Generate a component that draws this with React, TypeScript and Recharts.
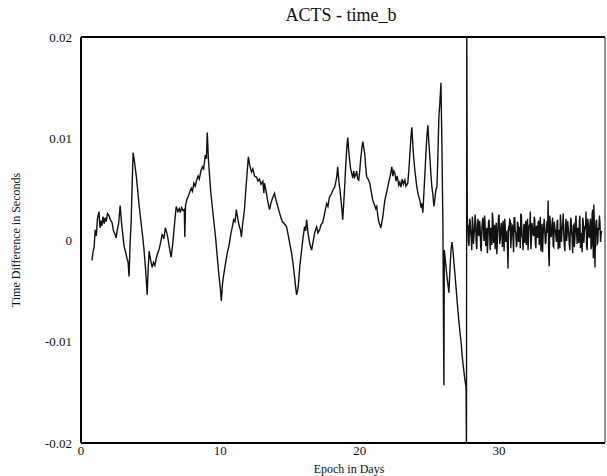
import { LineChart, Line, XAxis, YAxis, ReferenceLine } from 'recharts';

// ACTS clock - time_b residuals (days, seconds)
const epochsA = [0.79, 0.86, 0.94, 1.02, 1.1, 1.18, 1.29, 1.36, 1.44, 1.5, 1.58, 1.66, 1.73, 1.81, 1.9, 2.01, 2.1, 2.23, 2.33, 2.43, 2.52, 2.6, 2.7, 2.81, 2.9, 3.0, 3.09, 3.2, 3.3, 3.38, 3.45, 3.52, 3.6, 3.67, 3.74, 3.85, 3.96, 4.06, 4.17, 4.3, 4.42, 4.53, 4.64, 4.75, 4.82, 4.89, 5.0, 5.11, 5.2, 5.3, 5.4, 5.5, 5.61, 5.72, 5.83, 5.95, 6.05, 6.12, 6.22, 6.35, 6.47, 6.58, 6.7, 6.83, 6.95, 7.05, 7.12, 7.22, 7.32, 7.41, 7.45, 7.5, 7.6, 7.7, 7.8, 7.91, 8.0, 8.1, 8.2, 8.3, 8.4, 8.49, 8.6, 8.71, 8.8, 8.92, 9.0, 9.06];
const valuesA = [-0.002, -0.0012, -0.0007, 0.001, 0.0004, 0.0021, 0.0028, 0.0012, 0.0019, 0.0014, 0.0023, 0.0016, 0.0022, 0.0018, 0.0026, 0.0024, 0.002, 0.0017, 0.0009, 0.0006, 0.0002, 0.001, 0.0016, 0.0034, 0.0018, 0.0005, -0.0006, -0.0012, -0.0018, -0.0022, -0.0036, -0.0004, 0.0018, 0.0055, 0.0086, 0.0076, 0.0064, 0.005, 0.0034, 0.0018, 0.0004, -0.0011, -0.003, -0.0054, -0.0028, -0.0011, -0.002, -0.0027, -0.0022, -0.0025, -0.0018, -0.0013, -0.0009, -0.0002, 0.0006, 0.0001, 0.0012, 0.0009, 0.0003, -0.0008, -0.0017, -0.0004, 0.0014, 0.0033, 0.0028, 0.0031, 0.0027, 0.0032, 0.0029, 0.003, 0.0003, 0.0034, 0.004, 0.0043, 0.0047, 0.0051, 0.0048, 0.0056, 0.0053, 0.0059, 0.0063, 0.006, 0.0068, 0.0072, 0.007, 0.0084, 0.008, 0.0106];

const epochsB = [9.14, 9.22, 9.32, 9.42, 9.55, 9.66, 9.78, 9.9, 10.0, 10.07, 10.15, 10.22, 10.29, 10.36, 10.43, 10.52, 10.58, 10.65, 10.75, 10.86, 10.95, 11.05, 11.15, 11.25, 11.35, 11.44, 11.51, 11.6, 11.73, 11.82, 11.92, 12.01, 12.1, 12.23, 12.33, 12.45, 12.59, 12.7, 12.81, 12.92, 13.05, 13.12, 13.17, 13.28, 13.4, 13.53, 13.62, 13.74, 13.88, 13.98, 14.1, 14.24, 14.35, 14.45, 14.53, 14.65, 14.75, 14.88, 15.0, 15.11, 15.22, 15.32, 15.4, 15.47, 15.54, 15.6, 15.7, 15.83, 15.93, 16.04, 16.12, 16.19, 16.3, 16.42, 16.55, 16.65, 16.78, 16.91, 17.0, 17.12, 17.22, 17.34, 17.45, 17.55, 17.63, 17.72, 17.82, 17.99];
const valuesB = [0.008, 0.0064, 0.0046, 0.0033, 0.0016, 0.0002, -0.0017, -0.0035, -0.0048, -0.006, -0.0044, -0.0036, -0.003, -0.0024, -0.0018, -0.0011, -0.0008, -0.0003, 0.0006, 0.0013, 0.002, 0.0018, 0.003, 0.0021, 0.0014, 0.001, 0.0003, 0.0016, 0.003, 0.0048, 0.0066, 0.0082, 0.0074, 0.0067, 0.007, 0.0063, 0.0062, 0.0058, 0.006, 0.0055, 0.0058, 0.0046, 0.0056, 0.0048, 0.0038, 0.003, 0.0036, 0.0041, 0.0046, 0.004, 0.0034, 0.0027, 0.0022, 0.0018, 0.0017, 0.0015, 0.0013, 0.0004, -0.0005, -0.0013, -0.0024, -0.0036, -0.0046, -0.0054, -0.005, -0.0044, -0.0026, -0.001, 0.0002, 0.0013, 0.0009, 0.002, 0.0006, -0.0004, -0.001, -0.0002, 0.0008, 0.0013, 0.0007, 0.001, 0.0015, 0.0017, 0.0024, 0.0031, 0.0036, 0.0033, 0.0042, 0.0046];

const epochsC = [18.1, 18.2, 18.28, 18.35, 18.42, 18.5, 18.58, 18.63, 18.72, 18.78, 18.86, 18.93, 19.0, 19.07, 19.14, 19.21, 19.28, 19.35, 19.42, 19.5, 19.57, 19.64, 19.71, 19.78, 19.86, 19.93, 20.0, 20.07, 20.15, 20.22, 20.29, 20.36, 20.43, 20.5, 20.6, 20.72, 20.8, 20.87, 20.94, 21.05, 21.15, 21.22, 21.3, 21.37, 21.44, 21.51, 21.58, 21.65, 21.72, 21.8, 21.9, 22.01, 22.1, 22.2, 22.3, 22.38, 22.45, 22.52, 22.6, 22.68, 22.73, 22.8, 22.88, 22.96, 23.05, 23.14, 23.24, 23.32, 23.45, 23.52, 23.6, 23.67, 23.74, 23.81, 23.88, 23.96, 24.03, 24.1, 24.18, 24.25, 24.32, 24.4, 24.46, 24.53, 24.6, 24.68, 24.76, 24.82, 24.89, 24.96, 25.04, 25.11, 25.18, 25.25, 25.32, 25.4, 25.47, 25.54, 25.6, 25.68, 25.75, 25.83, 25.9, 25.97, 26.04, 26.07, 26.13, 26.2, 26.26, 26.33, 26.4, 26.47, 26.55, 26.62, 26.7, 26.77, 26.83, 26.92, 27.0, 27.05, 27.13, 27.2, 27.27, 27.34, 27.41, 27.48, 27.55, 27.63];
const valuesC = [0.005, 0.0052, 0.0057, 0.0062, 0.0072, 0.0058, 0.005, 0.0043, 0.003, 0.002, 0.0038, 0.0055, 0.0075, 0.009, 0.0101, 0.0088, 0.0078, 0.007, 0.0066, 0.0061, 0.0068, 0.0062, 0.0064, 0.0068, 0.006, 0.0059, 0.0068, 0.008, 0.009, 0.0097, 0.0091, 0.0085, 0.0072, 0.0062, 0.006, 0.0056, 0.005, 0.0044, 0.0039, 0.0035, 0.0031, 0.0033, 0.0024, 0.0018, 0.0015, 0.0012, 0.0017, 0.0022, 0.003, 0.0039, 0.0045, 0.0052, 0.0058, 0.0064, 0.0072, 0.0063, 0.0068, 0.0066, 0.0058, 0.0063, 0.006, 0.0054, 0.0057, 0.0052, 0.006, 0.0055, 0.0059, 0.0053, 0.0056, 0.0068, 0.0085, 0.01, 0.0111, 0.0094, 0.008, 0.0068, 0.006, 0.0052, 0.0046, 0.0042, 0.0039, 0.0032, 0.0036, 0.0027, 0.0045, 0.0066, 0.0088, 0.0102, 0.0113, 0.0096, 0.008, 0.0064, 0.0052, 0.0045, 0.0033, 0.0041, 0.005, 0.0052, 0.0078, 0.0121, 0.0135, 0.0155, 0.009, 0.0013, -0.0143, -0.001, -0.0018, -0.0028, -0.0036, -0.0044, -0.0052, -0.003, -0.001, -0.0002, -0.0012, -0.0024, -0.0033, -0.0048, -0.0062, -0.007, -0.0082, -0.0092, -0.01, -0.0112, -0.0122, -0.013, -0.0138, -0.0145];

// the off-scale glitch at the clock change
const glitchEpochs = [27.66, 27.68, 27.72];
const glitchValues = [-0.0215, 0.0215, 0.001];

// after the change: dense white noise, two interleaved sample sets
const noiseEpochs = [27.76, 27.84, 27.92, 28.0, 28.08, 28.16, 28.24, 28.32, 28.4, 28.48, 28.56, 28.64, 28.72, 28.8, 28.88, 28.96, 29.04, 29.12, 29.2, 29.28, 29.36, 29.44, 29.52, 29.6, 29.68, 29.76, 29.84, 29.92, 30.0, 30.08, 30.16, 30.24, 30.32, 30.4, 30.48, 30.56, 30.64, 30.72, 30.8, 30.88, 30.96, 31.04, 31.12, 31.2, 31.28, 31.36, 31.44, 31.52, 31.6, 31.68, 31.76, 31.84, 31.92, 32.0, 32.08, 32.16, 32.24, 32.32, 32.4, 32.48, 32.56, 32.64, 32.72, 32.8, 32.88, 32.96, 33.04, 33.12, 33.2, 33.28, 33.36, 33.44, 33.52, 33.6, 33.68, 33.76, 33.84, 33.92, 34.0, 34.08, 34.16, 34.24, 34.32, 34.4, 34.48, 34.56, 34.64, 34.72, 34.8, 34.88, 34.96, 35.04, 35.12, 35.2, 35.28, 35.36, 35.44, 35.52, 35.6, 35.68, 35.76, 35.84, 35.92, 36.0, 36.08, 36.16, 36.24, 36.32, 36.4, 36.48, 36.56, 36.64, 36.72, 36.8, 36.88, 36.96, 37.04, 37.12, 37.2, 37.28, 37.36];
const noiseValues = [
  0.0015, -0.0006, 0.0019, 0.0002, 0.0023, -0.0004, 0.0011, 0.0017, -0.0009, 0.0021,
  0.0004, 0.0013, -0.0011, 0.0018, 0.0007, 0.0024, -0.0006, 0.0012, 0.0001, 0.002,
  -0.001, 0.0009, 0.0027, -0.0003, 0.0015, 0.0005, -0.0014, 0.0012, 0.0025, 0.0,
  0.0017, -0.0007, 0.001, 0.0021, -0.0002, 0.0008, -0.0028, 0.0011, 0.0019, 0.0003,
  0.0014, -0.0012, 0.0022, 0.0006, -0.0004, 0.0016, 0.0009, -0.0008, 0.0024, 0.0002,
  0.0013, -0.0003, 0.0019, 0.0007, -0.001, 0.0015, 0.0028, -0.0001, 0.0011, 0.0004,
  0.002, -0.0008, 0.0012, 0.0017, -0.0005, 0.0023, 0.0006, -0.0012, 0.0014, 0.0009,
  -0.0002, 0.0019, 0.0039, -0.0026, 0.0016, 0.0005, 0.0022, -0.0007, 0.0012, 0.0003,
  0.0018, -0.0009, 0.001, 0.0025, -0.0002, 0.0013, 0.0006, -0.0011, 0.0021, 0.0004,
  0.0012, -0.0005, 0.0017, 0.0008, -0.0013, 0.0015, 0.0001, 0.0024, -0.0004, 0.001,
  0.0019, -0.0008, 0.0007, 0.0022, -0.0003, 0.0014, 0.0028, -0.001, 0.0016, 0.0002,
  0.0021, -0.0006, 0.003, 0.0035, -0.0027, 0.0018, -0.0004, 0.0012, 0.0024, -0.0002,
  0.0009,
];
const noiseEpochs2 = [27.8, 27.88, 27.96, 28.04, 28.12, 28.2, 28.28, 28.36, 28.44, 28.52, 28.6, 28.68, 28.76, 28.84, 28.92, 29.0, 29.08, 29.16, 29.24, 29.32, 29.4, 29.48, 29.56, 29.64, 29.72, 29.8, 29.88, 29.96, 30.04, 30.12, 30.2, 30.28, 30.36, 30.44, 30.52, 30.6, 30.68, 30.76, 30.84, 30.92, 31.0, 31.08, 31.16, 31.24, 31.32, 31.4, 31.48, 31.56, 31.64, 31.72, 31.8, 31.88, 31.96, 32.04, 32.12, 32.2, 32.28, 32.36, 32.44, 32.52, 32.6, 32.68, 32.76, 32.84, 32.92, 33.0, 33.08, 33.16, 33.24, 33.32, 33.4, 33.48, 33.56, 33.64, 33.72, 33.8, 33.88, 33.96, 34.04, 34.12, 34.2, 34.28, 34.36, 34.44, 34.52, 34.6, 34.68, 34.76, 34.84, 34.92, 35.0, 35.08, 35.16, 35.24, 35.32, 35.4, 35.48, 35.56, 35.64, 35.72, 35.8, 35.88, 35.96, 36.04, 36.12, 36.2, 36.28, 36.36, 36.44, 36.52, 36.6, 36.68, 36.76, 36.84, 36.92, 37.0, 37.08, 37.16, 37.24, 37.32];
const noiseValues2 = [
  -0.0002, 0.0021, 0.0008, -0.001, 0.0016, 0.0004, 0.0025, -0.0003, 0.0013, 0.0006,
  0.0019, -0.0007, 0.001, 0.0022, -0.0001, 0.0015, 0.0003, -0.0013, 0.0018, 0.0008,
  0.0012, -0.0005, 0.002, 0.0006, -0.0009, 0.0017, 0.0002, 0.0023, -0.0004, 0.0011,
  0.0005, 0.0019, -0.0011, 0.0014, 0.0007, -0.0006, 0.0012, 0.002, -0.0008, 0.0015,
  0.0001, 0.0022, 0.0009, -0.0007, 0.0018, -0.0002, 0.0013, 0.0026, 0.0004, -0.001,
  0.0016, 0.0008, -0.0005, 0.0021, 0.0003, 0.0012, -0.0009, 0.0017, 0.0006, 0.0023,
  -0.0003, 0.0014, 0.0002, 0.0019, 0.001, -0.0011, 0.0016, 0.0005, 0.0021, -0.0004,
  0.0012, 0.0007, -0.0014, 0.0024, 0.0003, 0.0015, -0.0006, 0.0018, 0.0009, -0.0002,
  0.002, 0.0004, -0.0008, 0.0016, 0.0011, 0.0026, -0.0005, 0.0013, -0.0001, 0.0019,
  0.0006, -0.001, 0.0022, 0.0003, 0.0014, -0.0007, 0.0017, 0.0008, 0.0012, -0.0003,
  0.0024, 0.0002, -0.0012, 0.0018, 0.0007, 0.0011, -0.0006, 0.0021, 0.0004, 0.0016,
  -0.0009, 0.0026, -0.0018, 0.0013, 0.0005, 0.002, -0.0003, 0.001, 0.0017, 0.0006,
];

const xTicks = [0, 10, 20, 30];
const yTicks = [-0.02, -0.01, 0, 0.01, 0.02];
const X_MAX = 37.6;

const pairs = (days: number[], vals: number[]) => days.map((d, i) => ({ day: d, value: vals[i] }));

const noise = [...pairs(noiseEpochs, noiseValues), ...pairs(noiseEpochs2, noiseValues2)].sort((a, b) => a.day - b.day);

const data = [
  ...pairs(epochsA, valuesA),
  ...pairs(epochsB, valuesB),
  ...pairs(epochsC, valuesC),
  ...pairs(glitchEpochs, glitchValues),
  ...noise,
];

const serif = '"Liberation Serif", "DejaVu Serif", serif';
const tickStyle = { fontSize: 13, fill: '#111', fontFamily: serif };

export default function App() {
  return (
    <div style={{ position: 'absolute', left: 0, top: 0, width: 607, height: 476, background: '#fff', fontFamily: serif }}>
      <div style={{ position: 'absolute', left: 241, top: 5, width: 200, textAlign: 'center', fontSize: 18, lineHeight: '20px', color: '#111' }}>
        ACTS - time_b
      </div>
      <LineChart width={607} height={476} data={data} margin={{ top: 37, right: 2, bottom: 0, left: 0 }}>
        <XAxis
          dataKey="day"
          type="number"
          domain={[0, X_MAX]}
          ticks={xTicks}
          allowDataOverflow
          height={33}
          tickLine={false}
          tickSize={0}
          tickMargin={3}
          tick={tickStyle}
          axisLine={{ stroke: '#000', strokeWidth: 2 }}
          label={{ value: 'Epoch in Days', position: 'insideBottom', offset: 3, fill: '#111', fontSize: 12, fontFamily: serif, dx: 6 }}
        />
        <YAxis
          type="number"
          domain={[-0.02, 0.02]}
          ticks={yTicks}
          allowDataOverflow
          width={81}
          tickLine={false}
          tickSize={0}
          tickMargin={9}
          tick={tickStyle}
          tickFormatter={(v: number) => (v === 0 ? '0' : v.toFixed(2))}
          axisLine={{ stroke: '#000', strokeWidth: 2 }}
          label={{ value: 'Time Difference in Seconds', angle: -90, position: 'insideLeft', offset: 16, fill: '#111', fontSize: 12, fontFamily: serif, style: { textAnchor: 'middle' } }}
        />
        <ReferenceLine y={0.02} stroke="#000" strokeWidth={2} />
        <ReferenceLine x={X_MAX} stroke="#222" strokeWidth={1} />
        <Line
          type="linear"
          dataKey="value"
          stroke="#111"
          strokeWidth={1.4}
          dot={false}
          isAnimationActive={false}
        />
      </LineChart>
    </div>
  );
}
